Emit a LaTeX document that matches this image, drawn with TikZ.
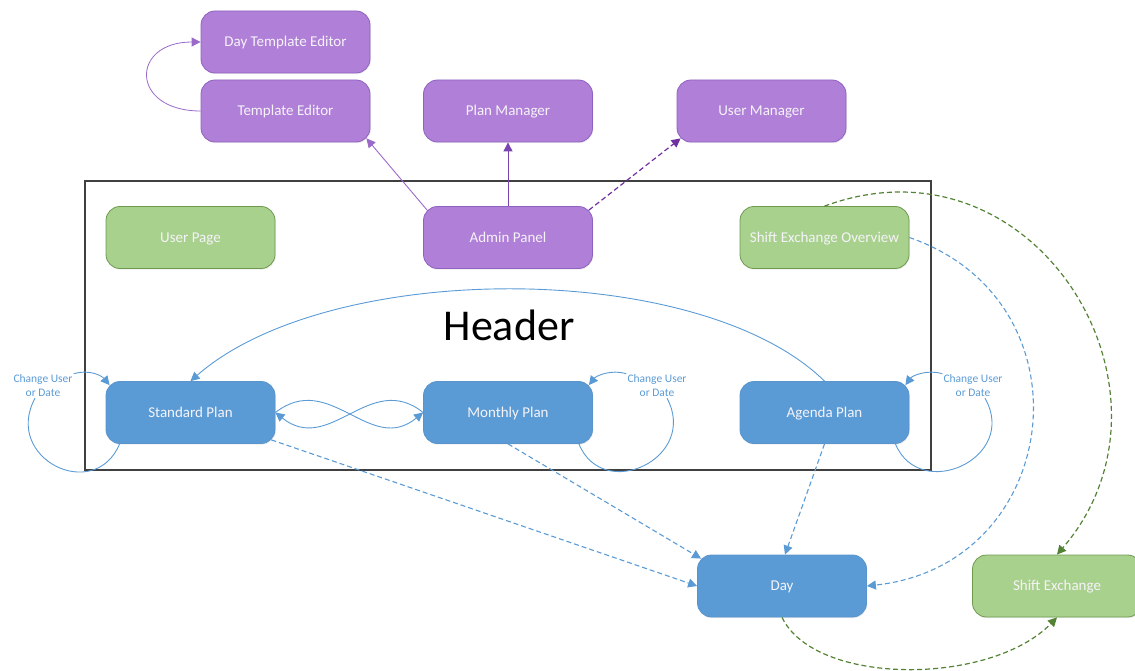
\documentclass[tikz,border=0pt]{standalone}
\usepackage{fontspec}
\setmainfont{Carlito}
\usetikzlibrary{arrows.meta,calc,shadows}

\definecolor{purpfill}{HTML}{B07FD8}
\definecolor{purpline}{HTML}{8E62C0}
\definecolor{purparrow}{HTML}{7A45B0}
\definecolor{purplight}{HTML}{9A6ACA}
\definecolor{purpdark}{HTML}{7030A0}
\definecolor{bluefill}{HTML}{5B9BD5}
\definecolor{blueline}{HTML}{5A94CC}
\definecolor{bluearrow}{HTML}{5B9BD5}
\definecolor{greenfill}{HTML}{A9D18E}
\definecolor{greenline}{HTML}{6E9A4E}
\definecolor{greenarrow}{HTML}{548235}
\definecolor{boxtext}{HTML}{F5F3F8}
\definecolor{framegray}{HTML}{404040}

\begin{document}
\begin{tikzpicture}[x=1pt,y=-1pt,
  box/.style={rounded corners=14pt, minimum width=169pt, minimum height=62pt,
    inner sep=0pt, font=\fontsize{15}{18}\selectfont, text=boxtext,
    text height=9.7pt, text depth=0pt, line width=0.8pt,
    drop shadow={opacity=0.15, shadow xshift=0.8pt, shadow yshift=-1.2pt}},
  purpbox/.style={box, fill=purpfill, draw=purpline},
  bluebox/.style={box, fill=bluefill, draw=blueline},
  greenbox/.style={box, fill=greenfill, draw=greenline},
  cuelabel/.style={align=center, inner sep=1pt, text=bluearrow,
    font=\fontsize{11.5}{14}\selectfont},
  tipend/.style={-{Triangle[length=9pt,width=9pt]}},
  dashline/.style={dash pattern=on 5pt off 3pt},
  purpconn/.style={draw=purparrow, line width=0.9pt},
  blueconn/.style={draw=bluearrow, line width=0.9pt},
  greenconn/.style={draw=greenarrow, line width=1.2pt},
  frameline/.style={draw=framegray, line width=1.3pt}
]
\useasboundingbox (0,0) rectangle (1135,671);

% header frame and its title
\node[frameline, minimum width=846pt, minimum height=289pt, inner sep=0pt]
  (frame) at (508,325.5) {};
\node[anchor=base, inner sep=0pt, font=\fontsize{44}{50}\selectfont] (hdr)
  at (509,340) {Header};

% admin area
\node[purpbox] (dte) at (285.5,42) {Day Template Editor};
\node[purpbox] (tpl) at (285.5,111) {Template Editor};
\node[purpbox] (pm)  at (508,111) {Plan Manager};
\node[purpbox] (um)  at (761.5,111) {User Manager};

% header row
\node[greenbox] (up)  at (190.5,237.5) {User Page};
\node[purpbox]  (adm) at (508,237.5) {Admin Panel};
\node[greenbox] (seo) at (824.5,237.5) {Shift Exchange Overview};

% plan views
\node[bluebox] (std) at (190.5,412.5) {Standard Plan};
\node[bluebox] (mon) at (508,412.5) {Monthly Plan};
\node[bluebox] (ag)  at (824.5,412.5) {Agenda Plan};

% detail pages
\node[bluebox]  (day) at (782,586) {Day};
\node[greenbox] (se)  at (1057,586) {Shift Exchange};

% "Change User or Date" cues
\node[cuelabel] (cuA) at (43,386) {Change User\\or Date};
\node[cuelabel] (cuB) at (657,386) {Change User\\or Date};
\node[cuelabel] (cuC) at (973,386) {Change User\\or Date};

% admin connectors
\draw[purpconn, draw=purplight, line width=0.8pt, tipend] (tpl.west)
  .. controls (130,111) and (130,42) .. (dte.west);
\draw[purpconn, draw=purplight, tipend]
  ($(adm.north west)+(4,4)$) -- ($(tpl.south east)+(-4,-4)$);
\draw[purpconn, tipend] (adm.north) -- (pm.south);
\draw[purpconn, draw=purpdark, line width=1.2pt, dashline, tipend]
  ($(adm.north east)+(-4,4)$) -- ($(um.south west)+(4,-4)$);

% plan navigation
\draw[blueconn, tipend] (ag.north)
  .. controls (700,259) and (330,259) .. (std.north);
\draw[blueconn, tipend] (std.east)
  .. controls (330,370) and (370,456) .. (mon.west);
\draw[blueconn, tipend] (mon.west)
  .. controls (370,370) and (330,456) .. (std.east);

% self loops of the plan views
\draw[blueconn] ($(std.south west)+(14,0)$)
  .. controls (94.6,503.8) and (2.6,458.4) .. ($(cuA.south)+(-8,0)$);
\draw[blueconn, tipend] (cuA.north east)
  .. controls (90,369) and (102,376) .. ($(std.north west)+(4,4)$);

\draw[blueconn] ($(mon.south east)+(-14,0)$)
  .. controls (603,503) and (699,458) .. ($(cuB.south)+(10,0)$);
\draw[blueconn, tipend] (cuB.north west)
  .. controls (611,369) and (596,376) .. ($(mon.north east)+(-4,4)$);

\draw[blueconn] ($(ag.south east)+(-14,0)$)
  .. controls (920,503) and (1019,458) .. ($(cuC.south)+(12,0)$);
\draw[blueconn, tipend] (cuC.north west)
  .. controls (927,369) and (912,376) .. ($(ag.north east)+(-4,4)$);

% links to the day page
\draw[blueconn, line width=1.1pt, dashline, tipend]
  ($(std.south east)+(-4,-4)$) -- (day.west);
\draw[blueconn, line width=1.1pt, dashline, tipend]
  (mon.south) -- ($(day.north west)+(4,4)$);
\draw[blueconn, line width=1.1pt, dashline, tipend]
  (ag.south) -- ($(day.north)+(3,0)$);
\draw[blueconn, line width=1.1pt, dashline, tipend] (seo.east)
  .. controls (1095,302) and (1063,565) .. (day.east);

% links to the shift exchange
\draw[greenconn, dashline, tipend] (seo.north)
  .. controls (1036,128) and (1196,393) .. (se.north);
\draw[greenconn, dashline, tipend] (day.south)
  .. controls (815,686) and (990,686) .. (se.south);
\end{tikzpicture}
\end{document}
